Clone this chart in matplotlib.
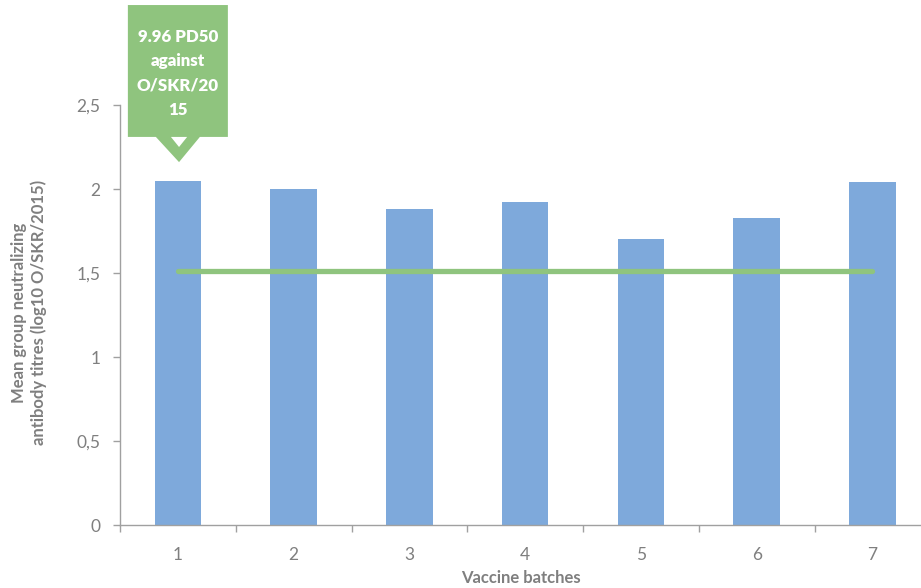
import matplotlib.pyplot as plt
from matplotlib.patches import Polygon

# Batch numbers and mean neutralizing titres (log10)
batches = [1, 2, 3, 4, 5, 6, 7]
titres = [2.05, 2.00, 1.88, 1.92, 1.70, 1.83, 2.04]
# Protective threshold drawn across the batches
threshold = [1.51] * len(batches)

yticks = [0, 0.5, 1, 1.5, 2, 2.5]
ytick_labels = ['0', '0,5', '1', '1,5', '2', '2,5']
callout_text = '9.96 PD50\nagainst\nO/SKR/20\n15'

bar_color = '#7EA9DB'
green = '#8FC47E'
grey = '#7F7F7F'

plt.rcParams['font.family'] = ['Lato', 'DejaVu Sans']

fig = plt.figure(figsize=(9.21, 5.88), dpi=100)
ax = fig.add_axes([120 / 921, 63 / 588, 801 / 921, 420 / 588])

ax.bar(batches, titres, width=0.4, color=bar_color, zorder=2)
ax.plot(batches, threshold, color=green, linewidth=3.8,
        solid_capstyle='round', zorder=3)

# category labels in the middle, tick marks on the boundaries
ax.set_xticks(batches)
ax.set_xticklabels([str(b) for b in batches])
ax.set_xticks([b - 0.5 for b in batches], minor=True)
ax.set_xlim(0.5, 7.42)
ax.set_ylim(0, 2.5)
ax.set_yticks(yticks)
ax.set_yticklabels(ytick_labels)

ax.tick_params(axis='x', which='major', length=0, pad=16, labelsize=12.5, labelcolor=grey)
ax.tick_params(axis='x', which='minor', length=5, width=1, color='#A0A0A0', direction='out')
ax.tick_params(axis='y', length=5, width=1, color='#A0A0A0', labelsize=12.5,
               labelcolor=grey, pad=9)

for s in ['top', 'right']:
    ax.spines[s].set_visible(False)
for s in ['left', 'bottom']:
    ax.spines[s].set_color('#A0A0A0')
    ax.spines[s].set_linewidth(1)

ax.set_xlabel('Vaccine batches', fontsize=12, fontweight='bold', color=grey, va='center')
ax.xaxis.set_label_coords(0.5, -0.126)
ax.set_ylabel('Mean group neutralizing\nantibody titres (log10 O/SKR/2015)',
              fontsize=12, fontweight='bold', color=grey, linespacing=1.25, va='center')
ax.yaxis.set_label_coords(-0.1136, 0.505)

# callout over batch 1
cx = batches[0]
tip_y = titres[0] + 0.11
box_bottom = tip_y + 0.15
box_top = tip_y + 0.935
box = Polygon([(cx - 0.432, box_bottom), (cx - 0.432, box_top),
               (cx + 0.432, box_top), (cx + 0.432, box_bottom),
               (cx + 0.19, box_bottom), (cx + 0.01, tip_y),
               (cx - 0.19, box_bottom)],
              closed=True, facecolor=green, edgecolor='none',
              clip_on=False, zorder=5)
ax.add_patch(box)
notch = Polygon([(cx - 0.06, box_bottom), (cx + 0.08, box_bottom),
                 (cx + 0.01, box_bottom - 0.06)],
                closed=True, facecolor='white', edgecolor='none',
                clip_on=False, zorder=6)
ax.add_patch(notch)
ax.text(cx, (box_bottom + box_top) / 2 - 0.015, callout_text, ha='center', va='center',
        color='white', fontsize=12.2, fontweight='heavy', linespacing=1.65,
        zorder=7, clip_on=False)

plt.savefig('out.png', dpi=100)
